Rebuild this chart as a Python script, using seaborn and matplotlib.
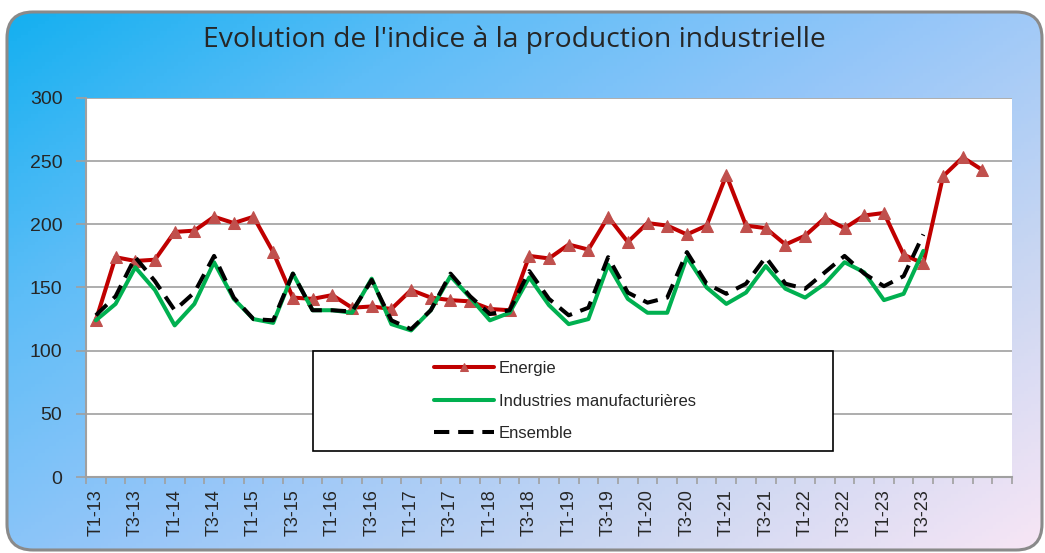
import numpy as np
import matplotlib
matplotlib.use("Agg")
import matplotlib.pyplot as plt
from matplotlib.patches import FancyBboxPatch, Rectangle
from matplotlib.colors import LinearSegmentedColormap
import seaborn as sns

# quarters T1-13 ... T3-24 (last slot is empty)
quarters = [f"T{q}-{y}" for y in range(13, 25) for q in range(1, 5)][:47]

energie = [124, 174, 171, 172, 194, 195, 206, 201, 206, 178,
           142, 141, 144, 134, 135, 133, 148, 142, 140, 139,
           133, 132, 175, 173, 184, 180, 206, 186, 201, 199,
           192, 199, 239, 199, 197, 184, 191, 205, 197, 207,
           209, 176, 169, 238, 253, 243]
industries = [124, 137, 166, 148, 120, 137, 170, 141, 125, 122,
              161, 132, 132, 130, 157, 121, 116, 132, 159, 142,
              124, 130, 158, 136, 121, 125, 168, 141, 130, 130,
              174, 150, 137, 146, 167, 149, 142, 153, 170, 162,
              140, 145, 179]
ensemble = [128, 143, 174, 155, 132, 146, 175, 142, 125, 124,
            161, 132, 132, 131, 156, 124, 117, 132, 161, 143,
            129, 132, 163, 141, 128, 134, 174, 146, 138, 142,
            178, 153, 145, 153, 174, 153, 149, 162, 175, 161,
            151, 159, 192]

sns.set_theme(style="white")
plt.rcParams['font.family'] = ['Liberation Sans', 'DejaVu Sans']

W, H = 1045, 553
fig = plt.figure(figsize=(W / 100, H / 100), dpi=100, facecolor="white")

# background: rounded box with diagonal gradient
bg = fig.add_axes([0, 0, 1, 1], zorder=-1)
bg.set_xlim(0, W)
bg.set_ylim(H, 0)
bg.axis("off")
gx, gy = np.meshgrid(np.linspace(0, 1, 300), np.linspace(0, 1, 160))
grad = 0.55 * gx + 0.45 * gy
cmap = LinearSegmentedColormap.from_list(
    "bg", ["#10aff0", "#5dbdf7", "#95c6f9", "#c8d6f2", "#f8e6f5"])
img = bg.imshow(grad, cmap=cmap, extent=(0, W, H, 0), aspect="auto", vmin=0, vmax=1)
box = FancyBboxPatch((7, 12), 1035, 538, boxstyle="round,pad=0,rounding_size=26",
                     facecolor="none", edgecolor="#8a8a8a", linewidth=2.2)
bg.add_patch(box)
img.set_clip_path(box)

ax = fig.add_axes([86 / W, 1 - 477 / H, 926 / W, 379 / H])
ax.set_facecolor("white")

xs_e = np.arange(len(energie))
xs_i = np.arange(len(industries))
xs_s = np.arange(len(ensemble))

sns.lineplot(x=xs_e, y=energie, ax=ax, color="#c00000", linewidth=2.9,
             marker="^", markersize=9, markerfacecolor="#c0504d",
             markeredgecolor="#c0504d", label="Energie", zorder=3)
sns.lineplot(x=xs_i, y=industries, ax=ax, color="#00b050", linewidth=2.9,
             label="Industries manufacturières", zorder=4)
sns.lineplot(x=xs_s, y=ensemble, ax=ax, color="black", linewidth=2.9,
             linestyle=(0, (3.8, 2.2)), label="Ensemble", zorder=5)

ax.set_xlim(-0.5, len(quarters) - 0.5)
ax.set_ylim(0, 300)
ax.set_yticks(range(0, 301, 50))
ax.yaxis.grid(True, color="#a0a0a0", linewidth=1.2)
ax.xaxis.grid(False)
ax.set_axisbelow(True)

ax.set_xticks(np.arange(-0.5, len(quarters), 1))
ax.set_xticklabels([])
label_pos = list(range(0, 43, 2))
ax.set_xticks(label_pos, minor=True)
ax.set_xticklabels([quarters[i] for i in label_pos], minor=True, rotation=90,
                   fontsize=13)
ax.tick_params(axis="x", which="major", length=5, width=1.2, color="#a0a0a0",
               direction="out", bottom=True)
ax.tick_params(axis="x", which="minor", length=0, pad=9, bottom=True)
ax.tick_params(axis="y", length=7, width=1.2, color="#a0a0a0", direction="out",
               pad=10, labelsize=14, left=True)

for side in ["top", "right"]:
    ax.spines[side].set_visible(False)
for side in ["left", "bottom"]:
    ax.spines[side].set_color("#a0a0a0")
    ax.spines[side].set_linewidth(1.5)
ax.set_xlabel("")
ax.set_ylabel("")

# legend box
ax.add_patch(Rectangle((0.245, 0.0686), 0.562, 0.264, transform=ax.transAxes,
                       facecolor="white", edgecolor="black", linewidth=1.2,
                       zorder=6))
leg = ax.legend(loc="center", bbox_to_anchor=(0.517, 0.2005), frameon=False,
                fontsize=12, handlelength=3.6, handletextpad=0.3,
                labelspacing=1.05)
leg.set_zorder(7)
for h in leg.legend_handles:
    h.set_markersize(6)

fig.text(514 / W, 1 - 40 / H, "Evolution de l'indice à la production industrielle",
         ha="center", va="center", fontsize=20.3, family=["Open Sans", "DejaVu Sans"])

fig.savefig("out.png", dpi=100)
